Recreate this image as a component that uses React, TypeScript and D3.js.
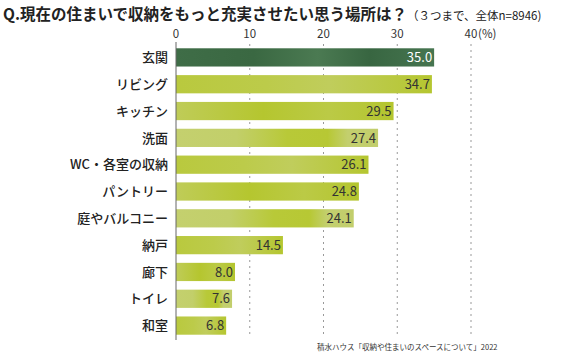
import * as d3 from "d3";
import { useEffect, useRef } from "react";

const categories = [
	"玄関",
	"リビング",
	"キッチン",
	"洗面",
	"WC・各室の収納",
	"パントリー",
	"庭やバルコニー",
	"納戸",
	"廊下",
	"トイレ",
	"和室",
];
const values = [35.0, 34.7, 29.5, 27.4, 26.1, 24.8, 24.1, 14.5, 8.0, 7.6, 6.8];
const ticks = [0, 10, 20, 30, 40];

const FONT = "'Noto Sans CJK JP', 'Noto Sans', sans-serif";

export default function App() {
	const svgRef = useRef<SVGSVGElement>(null);

	useEffect(() => {
		if (!svgRef.current) return;
		const width = 570;
		const height = 353;
		const svg = d3.select(svgRef.current);
		svg.selectAll("*").remove();
		svg.attr("width", width).attr("height", height);

		const defs = svg.append("defs");
		// watercolor-ish gradients
		const dark = defs.append("linearGradient").attr("id", "g-dark");
		[
			["0%", "#3f6d47"],
			["30%", "#3a6842"],
			["55%", "#4b7a52"],
			["75%", "#386641"],
			["100%", "#467550"],
		].forEach(([o, c]) => dark.append("stop").attr("offset", o).attr("stop-color", c));

		const lightStops = [
			[
				["0%", "#c4d06e"],
				["30%", "#c2cf6a"],
				["55%", "#b8c938"],
				["75%", "#b7c834"],
				["85%", "#c3cf6e"],
				["100%", "#c2ce6c"],
			],
			[
				["0%", "#b9c93e"],
				["35%", "#bccb4a"],
				["60%", "#c0cd5c"],
				["100%", "#b5c630"],
			],
			[
				["0%", "#bfcc58"],
				["40%", "#b5c62f"],
				["70%", "#bbca46"],
				["100%", "#b4c52e"],
			],
		];
		lightStops.forEach((stops, i) => {
			const g = defs.append("linearGradient").attr("id", `g-light${i}`);
			stops.forEach(([o, c]) => g.append("stop").attr("offset", o).attr("stop-color", c));
		});

		const x = d3.scaleLinear().domain([0, 40]).range([176, 471]);
		const y = d3
			.scaleBand<string>()
			.domain(categories)
			.range([44, 339])
			.paddingInner(0.32)
			.paddingOuter(0.16);

		// title
		const title = svg
			.append("text")
			.attr("x", 3)
			.attr("y", 20)
			.attr("font-family", FONT)
			.attr("fill", "#222");
		title
			.append("tspan")
			.attr("font-size", 15.5)
			.attr("font-weight", "bold")
			.text("Q.現在の住まいで収納をもっと充実させたい思う場所は？");
		title.append("tspan").attr("font-size", 11.5).text("（３つまで、全体n=8946)");

		// gridlines
		svg
			.append("g")
			.selectAll("line")
			.data(ticks.slice(1))
			.enter()
			.append("line")
			.attr("x1", (d) => x(d))
			.attr("x2", (d) => x(d))
			.attr("y1", 44)
			.attr("y2", 338)
			.attr("stroke", "#999")
			.attr("stroke-width", 1)
			.attr("stroke-dasharray", "2,4");

		// tick labels
		svg
			.append("g")
			.selectAll("text")
			.data(ticks)
			.enter()
			.append("text")
			.attr("x", (d) => x(d))
			.attr("y", 38)
			.attr("text-anchor", "middle")
			.attr("font-family", FONT)
			.attr("font-size", 11.5)
			.attr("fill", "#333")
			.text((d) => String(d));
		svg
			.append("text")
			.attr("x", x(40) + 7)
			.attr("y", 38)
			.attr("font-family", FONT)
			.attr("font-size", 11.5)
			.attr("fill", "#333")
			.text("(%)");

		// bars
		svg
			.append("g")
			.selectAll("rect")
			.data(values)
			.enter()
			.append("rect")
			.attr("x", x(0))
			.attr("y", (_, i) => y(categories[i]) ?? 0)
			.attr("width", (d) => x(d) - x(0))
			.attr("height", y.bandwidth())
			.attr("fill", (_, i) => (i === 0 ? "url(#g-dark)" : `url(#g-light${i % 3})`));

		// value labels
		svg
			.append("g")
			.selectAll("text")
			.data(values)
			.enter()
			.append("text")
			.attr("x", (d) => x(d) - 2)
			.attr("y", (_, i) => (y(categories[i]) ?? 0) + y.bandwidth() / 2)
			.attr("dy", "0.36em")
			.attr("text-anchor", "end")
			.attr("font-family", FONT)
			.attr("font-size", 13)
			.attr("fill", (_, i) => (i === 0 ? "#fff" : "#333"))
			.text((d) => d.toFixed(1));

		// category labels
		svg
			.append("g")
			.selectAll("text")
			.data(categories)
			.enter()
			.append("text")
			.attr("x", 168)
			.attr("y", (d) => (y(d) ?? 0) + y.bandwidth() / 2)
			.attr("dy", "0.36em")
			.attr("text-anchor", "end")
			.attr("font-family", FONT)
			.attr("font-size", 13)
			.attr("font-weight", 500)
			.attr("fill", "#222")
			.text((d) => d);

		// zero axis
		svg
			.append("line")
			.attr("x1", x(0))
			.attr("x2", x(0))
			.attr("y1", 42)
			.attr("y2", 340)
			.attr("stroke", "#666")
			.attr("stroke-width", 1);

		// source
		svg
			.append("text")
			.attr("x", 317)
			.attr("y", 350)
			.attr("font-family", FONT)
			.attr("font-size", 7.5)
			.attr("fill", "#333")
			.text("積水ハウス「収納や住まいのスペースについて」2022");
	}, []);

	return <svg ref={svgRef} style={{ display: "block", position: "absolute", left: 0, top: 0 }} />;
}
